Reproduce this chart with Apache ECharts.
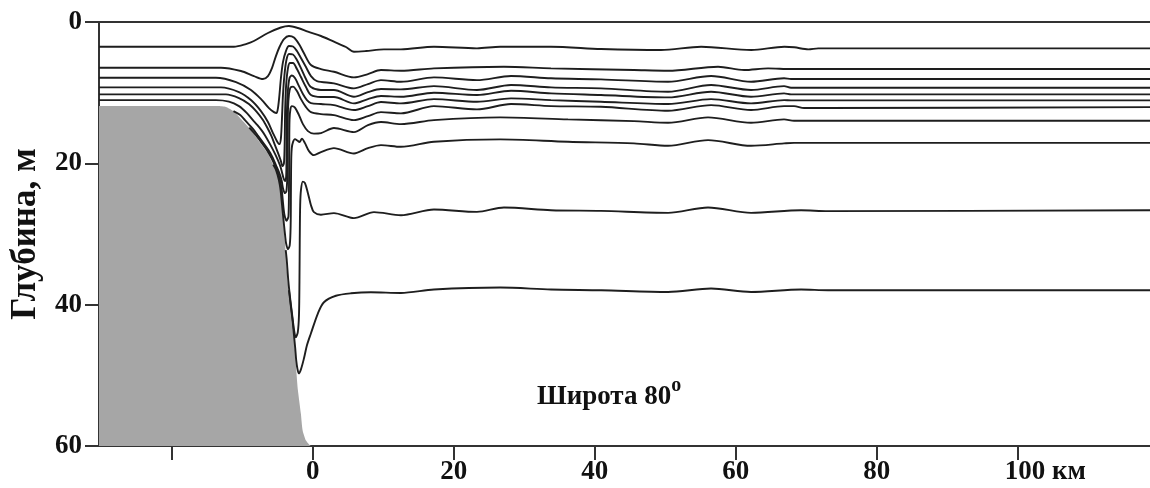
<!DOCTYPE html>
<html>
<head>
<meta charset="utf-8">
<script src="https://cdn.jsdelivr.net/npm/echarts@6/dist/echarts.min.js"></script>
<style>
html,body{margin:0;padding:0;background:#fff;}
#chart{width:1150px;height:488px;}
</style>
</head>
<body>
<div id="chart"></div>
<script>
// ---- Data (distance, km ; depth, m) ----
const shelf = [[-30.3,11.9],[-13.43,11.9],[-12.3,12.04],[-11.16,12.68],[-10.03,13.88],[-8.75,15.3],[-7.62,16.86],[-6.38,18.56],[-5.63,20.11],[-4.96,21.53],[-4.57,24.08],[-4.26,27.05],[-4.03,29.89],[-3.79,33.0],[-3.55,36.69],[-3.22,39.38],[-2.84,42.63],[-2.51,46.46],[-2.3,49.58],[-2.09,52.12],[-1.66,55.52],[-1.42,57.79],[-0.95,59.21],[-0.24,59.99],[-0.03,60]];

const iso1 = [[-30.3,3.5],[-11.16,3.5],[-9.46,3.12],[-8.33,2.69],[-6.34,1.56],[-4.5,0.78],[-3.36,0.57],[-2.09,0.85],[-0.67,1.37],[1.18,1.98],[3.02,2.79],[4.72,3.54],[5.86,4.21],[7.56,4.11],[10.11,3.87],[12.52,3.87],[17.2,3.5],[23.3,3.73],[26.6,3.5],[33.8,3.5],[40.9,3.82],[49.4,3.97],[55.1,3.5],[62.2,3.97],[66.9,3.5],[68.3,3.58],[70.3,3.87],[71.7,3.73],[118.9,3.73]];
const iso2 = [[-30.3,6.47],[-13.0,6.47],[-10.17,6.94],[-8.33,7.65],[-7.05,8.07],[-6.34,7.65],[-5.77,6.52],[-5.21,4.82],[-4.64,3.4],[-4.07,2.41],[-3.36,1.98],[-2.65,2.2],[-1.94,3.12],[-1.23,4.43],[-0.24,6.09],[1.18,6.66],[3.02,7.04],[5.86,7.83],[7.84,7.37],[9.69,6.8],[12.52,6.9],[17.2,6.56],[27.13,6.33],[33.8,6.56],[45.57,6.8],[50.4,6.9],[57.49,6.33],[61.18,6.8],[64.58,6.56],[67.84,6.66],[118.9,6.66]];
const iso3 = [[-30.3,7.89],[-13.72,7.89],[-10.87,8.5],[-8.75,9.63],[-7.19,11.05],[-6.2,12.18],[-5.49,12.75],[-5.13,12.89],[-4.92,12.18],[-4.71,10.34],[-4.5,7.93],[-4.21,5.67],[-3.79,4.11],[-3.36,3.4],[-2.79,3.47],[-2.23,4.11],[-1.66,5.1],[-0.95,6.37],[-0.24,7.65],[0.61,8.36],[3.02,8.68],[5.86,9.39],[7.84,8.78],[9.69,8.22],[12.52,8.46],[17.2,7.83],[23.3,8.22],[28.13,7.65],[33.8,7.97],[40.89,8.12],[50.4,8.46],[56.5,7.65],[62.17,8.46],[66.85,7.97],[67.84,8.07],[118.9,8.07]];
const iso4 = [[-30.3,9.25],[-13.0,9.25],[-10.45,9.92],[-8.75,11.05],[-7.33,12.61],[-6.34,14.16],[-5.63,15.72],[-5.06,16.86],[-4.71,17.28],[-4.5,16.43],[-4.35,13.6],[-4.21,10.34],[-4.0,7.51],[-3.72,5.38],[-3.36,4.53],[-2.79,4.6],[-2.23,5.38],[-1.66,6.52],[-0.95,8.07],[-0.24,9.21],[1.18,9.63],[3.02,9.63],[5.86,10.58],[7.84,9.92],[9.69,9.49],[12.52,9.53],[17.2,9.07],[23.3,9.63],[28.13,8.92],[33.8,9.25],[40.89,9.39],[50.4,9.87],[56.5,8.92],[62.17,9.63],[66.85,9.07],[67.84,9.31],[118.9,9.31]];
const iso5 = [[-30.3,10.24],[-12.3,10.24],[-10.45,10.76],[-9.04,11.61],[-7.9,12.75],[-7.05,13.88],[-6.41,15.01],[-5.84,16.15],[-5.35,17.42],[-4.85,18.7],[-4.5,19.69],[-4.28,20.4],[-4.07,19.97],[-3.96,16.71],[-3.9,12.46],[-3.76,8.92],[-3.5,6.52],[-3.22,5.81],[-2.79,5.81],[-2.23,6.66],[-1.66,7.79],[-0.95,9.21],[-0.24,10.34],[1.18,10.62],[3.02,10.62],[5.86,11.52],[7.84,10.91],[9.69,10.48],[12.52,10.58],[17.2,10.01],[23.3,10.34],[28.13,9.73],[33.8,10.1],[40.89,10.34],[50.4,10.67],[56.5,9.87],[62.17,10.58],[66.85,10.1],[67.84,10.24],[118.9,10.24]];
const iso6 = [[-30.3,11.05],[-13.72,11.05],[-11.87,11.26],[-10.45,11.9],[-9.32,12.89],[-8.47,13.88],[-7.83,14.59],[-7.26,15.3],[-6.77,16.01],[-5.97,17.42],[-5.25,18.84],[-4.64,20.25],[-4.35,21.25],[-4.13,22.1],[-3.93,22.52],[-3.76,21.95],[-3.7,18.13],[-3.66,13.17],[-3.53,9.92],[-3.28,7.93],[-2.94,7.58],[-2.51,7.93],[-1.94,9.07],[-1.38,10.2],[-0.81,11.05],[-0.24,11.47],[1.18,11.61],[3.02,11.76],[5.86,12.46],[7.84,11.9],[9.69,11.33],[12.52,11.52],[17.2,10.91],[23.3,11.29],[28.13,10.81],[33.8,11.05],[40.89,11.29],[50.4,11.61],[56.5,10.91],[62.17,11.52],[66.85,11.05],[67.84,11.09],[118.9,11.09]];
const iso7 = [[-11.23,12.61],[-10.27,13.17],[-9.6,13.88],[-8.96,14.59],[-8.33,15.3],[-7.82,16.01],[-7.19,16.86],[-6.27,18.13],[-5.63,19.26],[-5.21,20.25],[-4.78,21.25],[-4.41,22.38],[-4.21,23.51],[-3.93,24.22],[-3.72,23.94],[-3.59,21.67],[-3.55,16.71],[-3.5,12.46],[-3.36,10.2],[-3.15,9.28],[-2.79,9.14],[-2.23,9.77],[-1.66,10.91],[-0.95,12.04],[-0.24,12.75],[1.18,13.03],[3.02,13.17],[5.86,13.88],[7.84,13.31],[9.69,12.75],[12.52,12.93],[17.2,11.9],[23.3,12.37],[28.13,11.61],[33.8,11.9],[40.89,12.0],[50.4,12.56],[56.5,11.76],[62.17,12.46],[66.85,11.9],[68.27,11.9],[69.69,12.18],[72.38,12.18],[118.9,12.04]];
const iso8 = [[-8.99,14.94],[-8.04,16.01],[-7.4,16.86],[-6.48,18.13],[-5.84,19.26],[-5.38,20.25],[-4.99,21.25],[-4.62,22.38],[-4.38,23.8],[-4.24,25.21],[-4.13,26.35],[-3.99,27.34],[-3.72,28.12],[-3.43,27.48],[-3.36,23.8],[-3.32,18.13],[-3.28,13.88],[-3.15,12.32],[-2.94,11.9],[-2.51,12.11],[-1.94,13.17],[-1.38,14.45],[-0.67,15.44],[0.18,15.79],[1.18,15.72],[3.02,15.01],[5.86,15.58],[7.84,14.59],[9.69,14.16],[12.52,14.45],[17.2,13.88],[26.6,13.5],[36.21,13.78],[45.57,14.02],[50.4,14.26],[56.07,13.5],[62.17,14.26],[66.85,13.78],[68.27,13.98],[118.9,13.98]];
const iso9 = [[-5.59,20.2],[-5.21,20.9],[-4.79,22.38],[-4.55,23.8],[-4.41,25.21],[-4.23,27.05],[-4.06,28.75],[-3.91,30.17],[-3.77,31.3],[-3.5,32.15],[-3.25,31.59],[-3.12,28.75],[-3.08,23.8],[-3.04,19.55],[-2.96,17.85],[-2.79,17.0],[-2.51,16.57],[-2.16,16.78],[-1.87,17.0],[-1.52,16.5],[-1.09,17.14],[-0.52,18.27],[0.18,18.84],[1.18,18.41],[3.02,17.85],[5.86,18.6],[7.84,17.85],[9.69,17.42],[12.52,17.66],[17.2,16.95],[26.6,16.61],[36.21,16.95],[45.57,17.18],[50.4,17.52],[56.07,16.71],[62.17,17.52],[66.85,17.18],[68.27,17.1],[118.9,17.1]];
const iso10 = [[-3.82,32.29],[-3.67,33.71],[-3.46,36.54],[-3.16,39.38],[-2.95,41.08],[-2.78,42.49],[-2.63,43.63],[-2.4,44.62],[-2.11,43.91],[-1.94,41.5],[-1.87,36.54],[-1.83,30.88],[-1.77,25.92],[-1.66,23.8],[-1.4,22.59],[-1.09,22.8],[-0.67,24.22],[-0.24,25.92],[0.18,26.91],[1.18,27.27],[3.02,27.05],[5.86,27.76],[8.7,26.91],[12.52,27.34],[17.2,26.53],[23.3,26.87],[27.13,26.25],[33.8,26.63],[40.89,26.73],[50.4,27.01],[56.07,26.25],[62.17,27.01],[69.26,26.63],[73.09,26.77],[118.9,26.63]];
const iso11 = [[-3.36,37.96],[-3.11,40.08],[-2.82,42.49],[-2.65,44.33],[-2.47,46.18],[-2.33,47.88],[-2.17,49.01],[-1.97,49.72],[-1.66,49.15],[-1.23,47.59],[-0.81,45.75],[-0.24,44.05],[0.75,41.22],[1.6,39.66],[3.3,38.74],[5.43,38.39],[8.26,38.24],[12.52,38.34],[17.2,37.86],[26.6,37.58],[33.8,37.86],[40.89,37.96],[50.4,38.2],[56.5,37.72],[62.17,38.2],[69.26,37.86],[73.09,37.96],[118.9,37.96]];

const xTickValues = [-20, 0, 20, 40, 60, 80, 100];
const xLabelValues = [0, 20, 40, 60, 80, 100];
const xLabelTexts = ['0', '20', '40', '60', '80', '100 км'];
const yTickValues = [0, 20, 40, 60];
const yAxisTitle = 'Глубина, м';
const noteMain = 'Широта 80';
const noteSup = 'o';

// ---- Chart ----
const FONT = '"Liberation Serif", "Times New Roman", serif';
const AX = '#333';
const isolines = [iso1, iso2, iso3, iso4, iso5, iso6, iso7, iso8, iso9, iso10, iso11];

const chart = echarts.init(document.getElementById('chart'), null, {renderer: 'canvas'});
const labelStyle = {fontSize: 27, fontWeight: 'bold', fontFamily: FONT, color: '#111'};

const series = [{
  type: 'line', data: shelf, showSymbol: false, silent: true, z: 1,
  smooth: 0.2,
  lineStyle: {width: 0}, areaStyle: {color: '#a6a6a6', opacity: 1, origin: 'end'}
}].concat(isolines.map(d => ({
  type: 'line', data: d, showSymbol: false, silent: true, z: 3,
  smooth: 0.3, lineStyle: {color: '#1e1e1e', width: 1.9}
})));

chart.setOption({
  animation: false,
  grid: {left: 98, right: 0, top: 22, bottom: 42, containLabel: false},
  xAxis: [{
    type: 'value', min: -30.3, max: 118.75, position: 'bottom',
    axisLine: {onZero: false, lineStyle: {color: AX, width: 2}},
    axisTick: {show: true, customValues: xTickValues, length: 14, lineStyle: {color: AX, width: 2}},
    axisLabel: Object.assign({}, labelStyle, {
      customValues: xLabelValues, margin: 13,
      formatter: v => {
        const i = xLabelValues.indexOf(v);
        const s = i >= 0 ? xLabelTexts[i] : '';
        return i === xLabelValues.length - 1 ? '{u|' + s + '}' : s;
      },
      rich: {u: Object.assign({}, labelStyle, {padding: [0, 0, 0, 55]})}
    }),
    splitLine: {show: false}
  }, {
    type: 'value', min: -30.3, max: 118.75, position: 'top',
    axisLine: {onZero: false, lineStyle: {color: AX, width: 2}},
    axisTick: {show: false}, axisLabel: {show: false}, splitLine: {show: false}
  }],
  yAxis: {
    type: 'value', inverse: true, min: 0, max: 60, interval: 20,
    axisLine: {show: true, onZero: false, lineStyle: {color: AX, width: 2}},
    axisTick: {show: true, length: 14, lineStyle: {color: AX, width: 2}},
    axisLabel: Object.assign({}, labelStyle, {margin: 17, customValues: yTickValues}),
    splitLine: {show: false},
    name: yAxisTitle, nameLocation: 'middle', nameRotate: 90, nameGap: 56,
    nameTextStyle: {fontSize: 35, fontWeight: 'bold', fontFamily: FONT, color: '#111'}
  },
  graphic: [{
    type: 'text', x: 537, y: 397.5, z: 10, silent: true,
    style: {
      text: '{a|' + noteMain + '}{b|' + noteSup + '}',
      verticalAlign: 'middle', align: 'left',
      rich: {
        a: {fontSize: 27, fontWeight: 'bold', fontFamily: FONT, fill: '#111', lineHeight: 44},
        b: {fontSize: 20, fontWeight: 'bold', fontFamily: FONT, fill: '#111', lineHeight: 20, verticalAlign: 'top'}
      }
    }
  }],
  series: series
});
</script>
</body>
</html>
